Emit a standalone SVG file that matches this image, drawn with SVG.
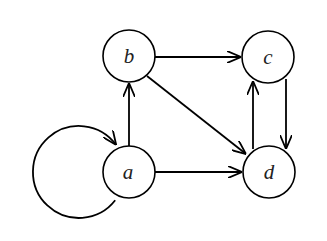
<svg xmlns="http://www.w3.org/2000/svg" width="327" height="241" viewBox="0 0 327 241">
<style>
.node circle{fill:#fff;stroke:#000;stroke-width:1.6}
.node text{font-family:"Liberation Serif",serif;font-style:italic;font-size:21px;text-anchor:middle;fill:#222}
.edge{fill:none;stroke:#000;stroke-width:1.8}
</style>
<defs>
<marker id="ah" viewBox="0 0 14 12" refX="14" refY="6" markerWidth="14" markerHeight="12" markerUnits="userSpaceOnUse" orient="auto">
<path d="M0,0 L14,6 L0,12" fill="none" stroke="#000" stroke-width="1.8"/>
</marker>
</defs>
<rect width="327" height="241" fill="#fff"/>
<g id="connectors">
<path class="edge" d="M115.2,200.3 A46,46 0 1 1 116.2,145" marker-end="url(#ah)"/>
<line class="edge" x1="129" y1="146" x2="129" y2="83" marker-end="url(#ah)"/>
<line class="edge" x1="155" y1="57" x2="241" y2="57" marker-end="url(#ah)"/>
<line class="edge" x1="147" y1="76" x2="246" y2="154" marker-end="url(#ah)"/>
<line class="edge" x1="155" y1="172" x2="242" y2="172" marker-end="url(#ah)"/>
<line class="edge" x1="253" y1="149" x2="253" y2="81" marker-end="url(#ah)"/>
<line class="edge" x1="286" y1="79" x2="286" y2="149" marker-end="url(#ah)"/>
</g>
<g id="a" class="node"><circle cx="129" cy="172" r="26"/><text x="128" y="179">a</text></g>
<g id="b" class="node"><circle cx="129" cy="56" r="26"/><text x="129" y="63">b</text></g>
<g id="c" class="node"><circle cx="268" cy="57" r="26"/><text x="268" y="64">c</text></g>
<g id="d" class="node"><circle cx="269" cy="172" r="26"/><text x="269" y="179">d</text></g>
</svg>
